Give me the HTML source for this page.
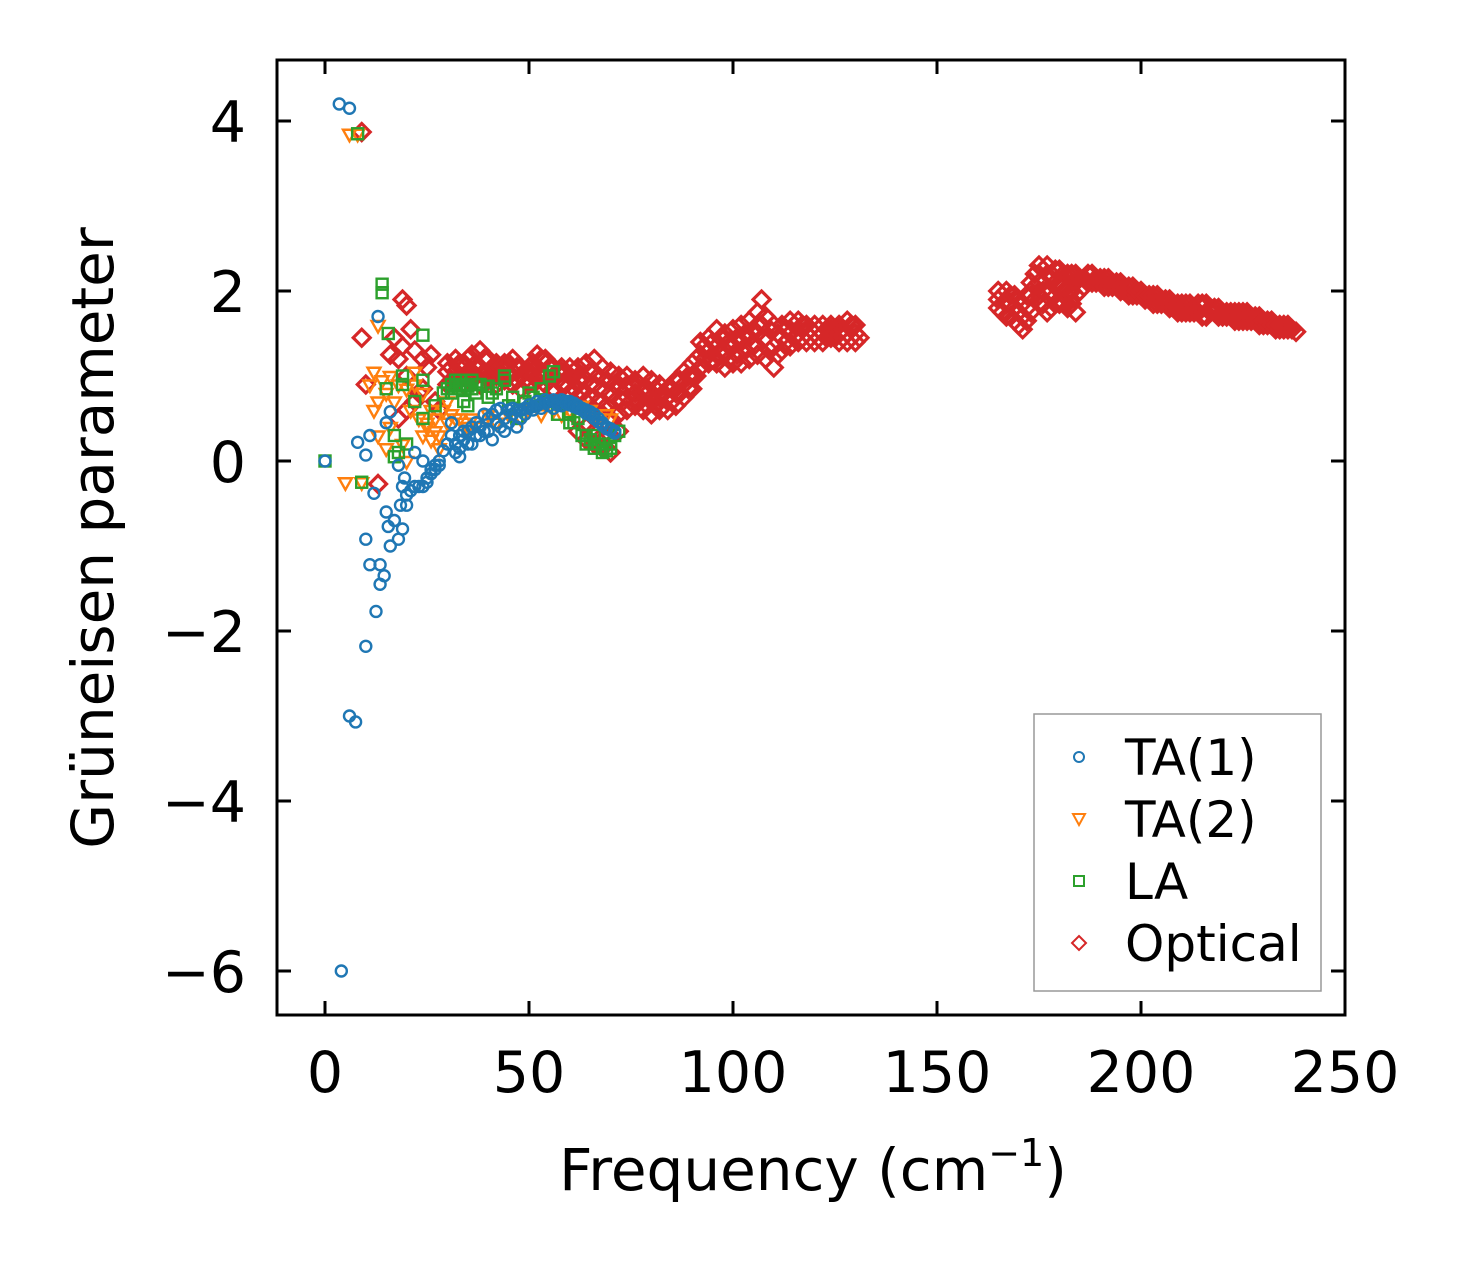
<!DOCTYPE html>
<html><head><meta charset="utf-8"><style>
html,body{margin:0;padding:0;background:#fff;}
svg text{font-family:"DejaVu Sans","Liberation Sans",sans-serif;}
</style></head><body>
<svg id="chart" width="1461" height="1264" viewBox="0 0 1461 1264" xmlns="http://www.w3.org/2000/svg">
<rect width="1461" height="1264" fill="#fff"/>
<g id="marks"></g>
<rect x="277" y="60" width="1068" height="955" fill="none" stroke="#000" stroke-width="3"/>
<g id="axes"></g>
<text x="113" y="538" font-size="58" text-anchor="middle" transform="rotate(-90 113 538)">Grüneisen parameter</text>
<text x="813" y="1190" font-size="58" text-anchor="middle">Frequency (cm<tspan font-size="38" dy="-24">−1</tspan><tspan dy="24">)</tspan></text>
<g>
<rect x="1034" y="714" width="287" height="277" fill="#fff" stroke="#999" stroke-width="1.5"/>
<g><circle cx="1079" cy="757" r="5" fill="none" stroke="#1f77b4" stroke-width="2"/><text x="1125" y="775" font-size="50">TA(1)</text></g>
<g><path d="M1073,814 L1085,814 L1079,825 Z" fill="none" stroke="#ff7f0e" stroke-width="2"/><text x="1125" y="837" font-size="50">TA(2)</text></g>
<g><rect x="1074" y="876" width="10" height="10" fill="none" stroke="#2ca02c" stroke-width="2"/><text x="1125" y="899" font-size="50">LA</text></g>
<g><path d="M1079,936 L1086,943 L1079,950 L1072,943 Z" fill="none" stroke="#d62728" stroke-width="2"/><text x="1125" y="961" font-size="50">Optical</text></g>
</g>
</svg>
<script>
const xTicks=[0,50,100,150,200,250];
const yTicks=[4,2,0,-2,-4,-6];
// each row: [frequency, gamma values...]
const ta1Rows=[[3.5,4.2],[6,4.15],[0,0],[4,-6],[6,-3],[7.5,-3.07],[10,-2.18],[12.5,-1.77],[13.5,-1.45,-1.22],[14.5,-1.35],[11,-1.22],[10,-0.92],[16,-1],[18,-0.92],[15.5,-0.77],[17,-0.7],[15,-0.6],[19,-0.8],[18.5,-0.52],[20,-0.52,-0.4],[12,-0.38],[21,-0.35],[22,-0.3,0.1],[23,-0.3],[24,-0.3,0],[25,-0.2,-0.25],[26,-0.15,-0.1],[27,-0.1,-0.05],[28,0.0,-0.05],[19,-0.3],[19.5,-0.2],[18,-0.05],[8,0.22],[10,0.07],[11,0.3],[15,0.45],[16,0.58],[13,1.7],
[29,0.12],[30,0.2],[31,0.3,0.45],[32,0.1,0.2],[33,0.05,0.15,0.3],[34,0.25,0.35],[35,0.35,0.2],[36,0.2,0.4],[37,0.3,0.45],[38,0.4,0.3],[39,0.55,0.35],[40,0.35,0.5],[41,0.25,0.55],[42,0.45,0.6],[43,0.62,0.4],[44,0.5,0.35],[45,0.6,0.45],[46,0.55,0.62],[47,0.4,0.6],[48,0.6,0.5],[49,0.62,0.55],[50,0.62,0.66],[51,0.64,0.6],[52,0.65,0.7],[53,0.68,0.62],[54,0.68,0.72],[55,0.65,0.7],[56,0.62,0.72],[57,0.7,0.66],[58,0.65,0.72],[59,0.7,0.68],[60,0.7,0.66],[61,0.68,0.64],[62,0.65,0.62],[63,0.62,0.6],[64,0.6,0.56],[65,0.58,0.54],[66,0.55,0.5],[67,0.5,0.46],[68,0.45,0.42],[69,0.4,0.38],[70,0.38,0.36],[71,0.35,0.33]];
const ta2Rows=[[6,3.85],[8,3.85],[5,-0.25],[9,-0.25],[12,0.6,1.05],[13,0.7,0.3,1.6],[11,0.9],[14,0.95],[15,0.15,0.8],[16,0.4,1.0],[17,0.7],[18,0.9],[19,0.2],[20,0.0,0.85],[21,0.6],[22,0.9,1.05],[23,0.5],[24,0.3,0.8],[25,0.4,0.45],[26,0.25,0.6],[27,0.5,0.35],[28,0.3,0.15],[29,0.6],[30,0.45,0.7],[31,0.55],[32,0.5],[33,0.5],[34,0.45],[35,0.4],[36,0.5],[38,0.4],[40,0.55],[42,0.45],[45,0.55],[48,0.5],[50,0.6],[53,0.55],[56,0.6],[58,0.55],[60,0.6],[63,0.65],[65,0.6],[67,0.5],[69,0.55],[70,0.5]];
const laRows=[[8,3.85],[0,0],[9,-0.25],[14,2.08,1.98],[15.5,1.5],[24,1.48],[15,0.85],[17,0.3,0.05],[18,0.1],[19,0.9,1.0],[20,0.2],[22,0.7],[24,0.95,0.5],[27,0.65],[29,0.8],[30,0.85],[31,0.9,0.8],[32,0.88,0.95],[33,0.95,0.85],[34,0.7,0.9],[35,0.65,0.88],[36,0.85,0.95],[37,0.8,0.9],[38,0.9],[40,0.75,0.88],[41,0.8],[42,0.85],[44,0.95,1.0],[45,0.65],[46,0.75],[47,0.5],[49,0.7],[50,0.8],[51,0.75],[53,0.85],[54,0.7],[55,1.0],[56,1.05],[57,0.55],[58,0.7],[60,0.45,0.55],[61,0.45],[62,0.5],[63,0.3],[64,0.2,0.3],[65,0.25],[66,0.15,0.3],[67,0.2],[68,0.1,0.15],[69,0.12],[70,0.15,0.2],[71,0.3],[72,0.35]];
const optRows=[[9,3.87,1.45],[10,0.9],[13,-0.27],[16,1.25],[17,1.45],[18,1.2,0.5],[19,1.9,1.35],[20,1.83,1.0,0.6],[21,1.55],[22,1.3,0.7],[23,0.8],[24,1.2,0.85],[25,1.1],[26,1.25],[27,0.7],[28,0.6],
[30,0.9,1.05,1.15],[31,0.95,1.1],[32,0.95,1.05,1.2],[33,1.0,1.15],[34,0.9,1.1,1.15],[35,0.95,1.2],[36,0.95,1.05,1.25],[37,1.0,1.15],[38,0.9,1.1,1.3],[39,1.0,1.2],[40,0.95,1.05,1.2],[41,1.0,1.1],[42,0.9,1.0,1.15],[43,1.0,1.1],[44,0.95,1.1,1.15],[45,1.0,1.15],[46,0.9,1.05,1.2],[47,0.95,1.1],[48,0.85,1.0,1.1],[49,0.95,1.05],[50,0.9,1.05,1.1],[51,1.0,1.15],[52,0.95,1.1,1.25],[53,1.0,1.2],[54,0.9,1.0,1.2],[55,0.95,1.1],[56,0.85,1.0,1.1],[57,0.95,1.05],[58,0.9,1.05,1.1],[59,0.9,1.05],[60,0.8,1.0,1.1],[61,0.85,1.05],[62,0.75,0.95,1.1],[63,0.8,1.0],[64,0.7,0.95,1.15],[65,0.75,1.05],[66,0.6,0.9,1.2],[67,0.7,1.0],[68,0.55,0.85,1.1],[69,0.65,0.95],[70,0.5,0.8,1.05],[71,0.7,0.9],[72,0.55,0.85,1.0],[73,0.7,0.95],[74,0.6,0.85,1.0],
[62,0.5,0.35],[64,0.4,0.25],[66,0.35,0.2],[68,0.3,0.15],[70,0.3,0.1],[72,0.35],
[75,0.7,0.9],[76,0.65,0.8,0.95],[77,0.7,0.9],[78,0.6,0.8,1.0],[79,0.65,0.85],[80,0.55,0.75,0.95],[81,0.65,0.85],[82,0.6,0.75,0.9],[83,0.65,0.8],[84,0.6,0.75,0.85],[85,0.7,0.85],[86,0.65,0.8,0.95],[87,0.8,0.95],[88,0.75,0.9,1.05],[89,0.85,1.0],[90,0.85,1.0,1.15],[91,1.0,1.2],
[92,1.1,1.25,1.4],[93,1.2,1.35],[94,1.15,1.3,1.45],[95,1.2,1.4],[96,1.15,1.35,1.55],[97,1.25,1.45],[98,1.1,1.3,1.5],[99,1.2,1.4],[100,1.15,1.35,1.55],[101,1.25,1.45],[102,1.15,1.4,1.6],[103,1.3,1.5],[104,1.2,1.45,1.65],[105,1.35,1.55],[106,1.25,1.5,1.75],[107,1.9,1.6],[108,1.2,1.45,1.7],[109,1.3,1.55],[110,1.1,1.35,1.6],[111,1.25,1.5],[112,1.3,1.45,1.6],
[113,1.4,1.55],[114,1.35,1.5,1.65],[115,1.45,1.6],[116,1.4,1.5,1.65],[117,1.45,1.6],[118,1.4,1.5,1.6],[119,1.45,1.55],[120,1.4,1.5,1.6],[121,1.45,1.55],[122,1.4,1.5,1.6],[123,1.45,1.55],[124,1.45,1.55,1.6],[125,1.45,1.55],[126,1.4,1.5,1.6],[127,1.45,1.55],[128,1.4,1.5,1.65],[129,1.45,1.6],[130,1.4,1.5,1.6],[131,1.45],
[165,1.8,1.9,2.0],[166,1.75,1.95],[167,1.7,1.85,2.0],[168,1.7,1.85,1.95],[169,1.65,1.8,1.95],[170,1.6,1.75,1.9],[171,1.55,1.7],[172,1.65,1.8,1.95],[173,1.75,1.95,2.1],[174,1.9,2.05,2.2],[175,1.95,2.1,2.3],[176,1.85,2.0,2.25],[177,1.75,1.95,2.3],[178,1.8,2.0,2.2],[179,1.85,2.1,2.25],[180,1.85,2.05,2.25],[181,1.85,2.05,2.2],[182,1.8,2.0,2.2],[183,1.85,2.0,2.2],[184,1.75,1.95,2.2],[185,2.0,2.15],[186,2.05,2.15],[187,2.1,2.2],[188,2.1,2.2],[189,2.1,2.15],[190,2.1,2.15],[191,2.05,2.15],[192,2.05,2.15],[193,2.05,2.1],[194,2.05,2.1],[195,2.0,2.1],[196,2.0,2.05],[197,1.95,2.05],[198,1.95,2.05],[199,1.95,2.0],[200,1.95,2.0],[201,1.9,1.95],[202,1.9,1.95],[203,1.85,1.95],[204,1.85,1.95],[205,1.85,1.9],[206,1.85,1.9],[207,1.8,1.9],[208,1.8,1.85],[209,1.75,1.85],[210,1.75,1.85],[211,1.75,1.85],[212,1.75,1.85],[213,1.75,1.8],[214,1.75,1.85],[215,1.7,1.85],[216,1.7,1.85],[217,1.75,1.8],[218,1.75,1.8],[219,1.7,1.8],[220,1.7,1.75],[221,1.7,1.75],[222,1.7,1.75],[223,1.65,1.75],[224,1.65,1.75],[225,1.65,1.75],[226,1.65,1.75],[227,1.65,1.7],[228,1.65,1.7],[229,1.6,1.7],[230,1.6,1.65],[231,1.6,1.65],[232,1.6,1.65],[233,1.55,1.6],[234,1.55,1.6],[235,1.55,1.6],[236,1.55,1.6],[237,1.55],[238,1.52]];
const X0=325,XS=4.08,Y0=461,YS=85;
const xs=f=>X0+XS*f, ys=g=>Y0-YS*g;
const NS="http://www.w3.org/2000/svg";
const marks=document.getElementById('marks');
const axes=document.getElementById('axes');
function mk(tag,attrs,parent){const e=document.createElementNS(NS,tag);for(const k in attrs)e.setAttribute(k,attrs[k]);parent.appendChild(e);return e;}
function series(rows,color,shape,name){
  const g=mk('g',{},marks);
  
  
  rows.forEach(r=>{for(let j=1;j<r.length;j++){
    const x=xs(r[0]),y=ys(r[j]);let e;
    if(shape==='circle')e=mk('circle',{cx:x,cy:y,r:5.5,fill:'none',stroke:color,'stroke-width':2.4},g);
    else if(shape==='tri')e=mk('path',{d:`M${x-6.5},${y-4} L${x+6.5},${y-4} L${x},${y+7.5} Z`,fill:'none',stroke:color,'stroke-width':2.4},g);
    else if(shape==='sq')e=mk('rect',{x:x-5.5,y:y-5.5,width:11,height:11,fill:'none',stroke:color,'stroke-width':2.4},g);
    else e=mk('path',{d:`M${x},${y-8.5} L${x+8.5},${y} L${x},${y+8.5} L${x-8.5},${y} Z`,fill:'none',stroke:color,'stroke-width':3.2},g);
    
    
  }});
}
series(optRows,'#d62728','dia','optical');
series(ta2Rows,'#ff7f0e','tri','ta2');
series(laRows,'#2ca02c','sq','la');
series(ta1Rows,'#1f77b4','circle','ta1');
xTicks.forEach(v=>{const x=xs(v);
  const t1=mk('line',{x1:x,x2:x,y1:1015,y2:1001,stroke:'#000','stroke-width':3},axes);
  
  
  const t2=mk('line',{x1:x,x2:x,y1:60,y2:74,stroke:'#000','stroke-width':3},axes);
  
  
  const l=mk('text',{x:x,y:1092,'font-size':57,'text-anchor':'middle'},axes);l.textContent=v;
  
  
});
yTicks.forEach(v=>{const y=ys(v);
  const t1=mk('line',{x1:277,x2:291,y1:y,y2:y,stroke:'#000','stroke-width':3},axes);
  
  
  const t2=mk('line',{x1:1345,x2:1331,y1:y,y2:y,stroke:'#000','stroke-width':3},axes);
  
  
  const l=mk('text',{x:246,y:y+21,'font-size':57,'text-anchor':'end'},axes);l.textContent=v<0?'−'+(-v):String(v);
  
  
});
</script>
</body></html>
